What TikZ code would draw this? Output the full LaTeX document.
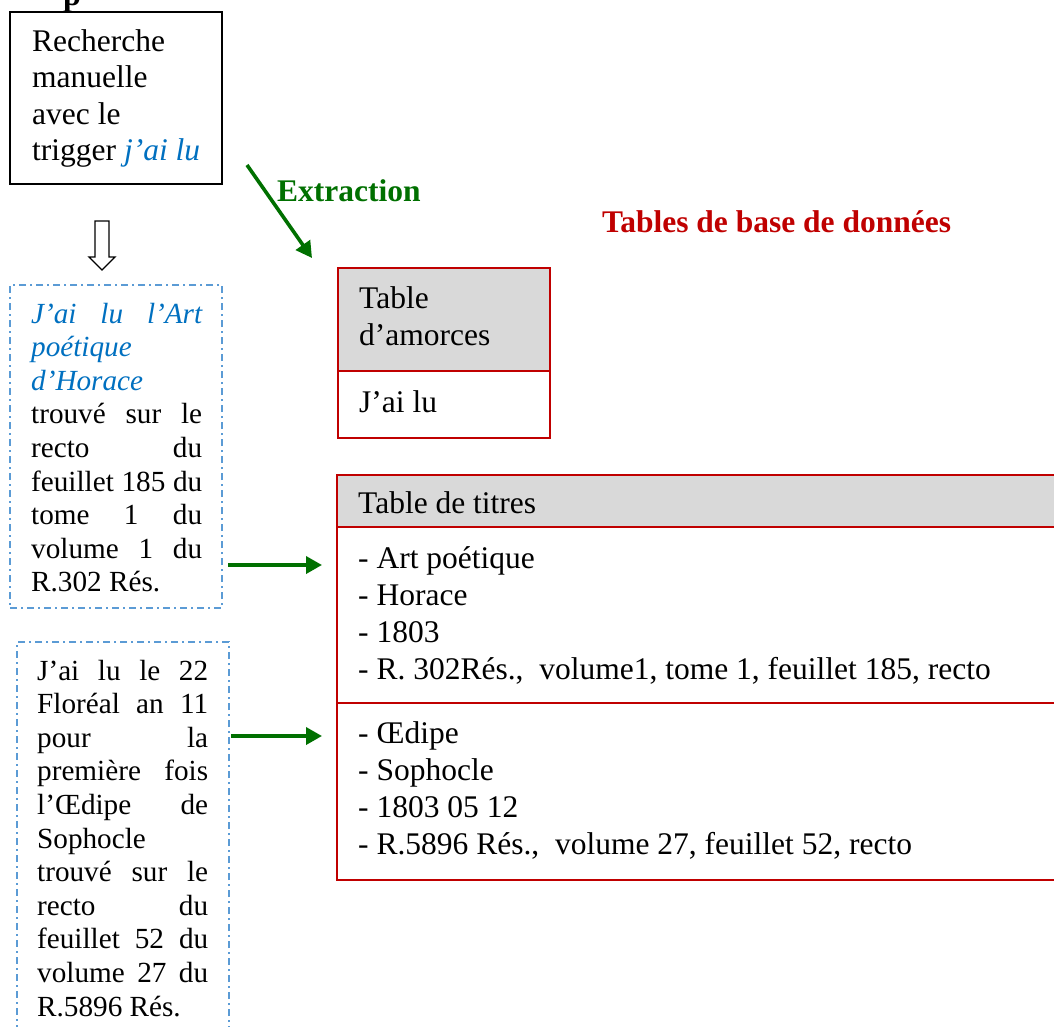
\documentclass[tikz,border=0pt]{standalone}
\usepackage{fontspec}
\setmainfont{Liberation Serif}
\usetikzlibrary{arrows.meta}
\definecolor{wblue}{RGB}{0,112,192}
\definecolor{dblue}{RGB}{91,155,213}
\definecolor{dred}{RGB}{192,0,0}
\definecolor{dgreen}{RGB}{0,112,0}
\definecolor{hgray}{RGB}{217,217,217}
\newcommand\jbox[1]{\makebox[171pt][s]{#1}}
\begin{document}
\begin{tikzpicture}[x=1pt,y=-1pt,
 big/.style={anchor=base west, inner sep=0, font=\fontsize{31.5}{36}\selectfont},
 small/.style={anchor=base west, inner sep=0, font=\fontsize{29.2}{34}\selectfont},
 head/.style={anchor=base west, inner sep=0, font=\fontsize{31.5}{36}\selectfont\bfseries},
 box/.style={anchor=north west, inner sep=0, outer sep=0, draw},
 blackbox/.style={box, draw=black, line width=1.7pt},
 bluebox/.style={box, draw=dblue, line width=1.5pt, dash pattern=on 7pt off 4pt on 2pt off 4pt},
 redbox/.style={box, draw=dred, line width=1.6pt},
 garrow/.style={draw=dgreen, line width=3.6pt, -{Triangle[length=16pt,width=17pt]}},
 hollow/.style={draw=black, line width=1.3pt, fill=white},
]
\useasboundingbox (0,0) rectangle (1054,1027);
\fill[white] (0,0) rectangle (1054,1027);
\begin{scope}
\clip (0,0) rectangle (1054,1027);

% cut-off heading fragment (as in the reference)
\node[anchor=base west, inner sep=0, font=\fontsize{32}{36}\selectfont\bfseries] (ptop) at (63,5.5) {p};

% box 1
\node[blackbox, minimum width=212pt, minimum height=172pt] (b1) at (10,12) {};
\node[big] (b1l1) at (32,52) {Recherche};
\node[big] (b1l2) at (32,88) {manuelle};
\node[big] (b1l3) at (32,124.5) {avec le};
\node[big] (b1l4) at (32,161) {trigger \textcolor{wblue}{\itshape j’ai lu}};

% hollow down arrow
\draw[hollow] (95,221) -- (109,221) -- (109,257) -- (115,257) -- (102,270) -- (89,257) -- (95,257) -- cycle;

% blue box 1
\node[bluebox, minimum width=212pt, minimum height=323pt] (blue1) at (10,285) {};
\node[small, text=wblue] (u1) at (31,323) {\jbox{\itshape J’ai lu l’Art}};
\node[small, text=wblue] (u2) at (31,356.6) {\itshape poétique};
\node[small, text=wblue] (u3) at (31,390.2) {\itshape d’Horace};
\node[small] (u4) at (31,423.8) {\jbox{trouvé sur le}};
\node[small] (u5) at (31,457.4) {\jbox{recto du}};
\node[small] (u6) at (31,491) {\jbox{feuillet 185 du}};
\node[small] (u7) at (31,524.6) {\jbox{tome 1 du}};
\node[small] (u8) at (31,558.2) {\jbox{volume 1 du}};
\node[small] (u9) at (31,591.8) {R.302 Rés.};

% blue box 2
\node[bluebox, minimum width=212pt, minimum height=400pt] (blue2) at (17,642) {};
\node[small] (v1) at (37,680) {\jbox{J’ai lu le 22}};
\node[small] (v2) at (37,713.6) {\jbox{Floréal an 11}};
\node[small] (v3) at (37,747.2) {\jbox{pour la}};
\node[small] (v4) at (37,780.8) {\jbox{première fois}};
\node[small] (v5) at (37,814.4) {\jbox{l’Œdipe de}};
\node[small] (v6) at (37,848) {Sophocle};
\node[small] (v7) at (37,881.6) {\jbox{trouvé sur le}};
\node[small] (v8) at (37,915.2) {\jbox{recto du}};
\node[small] (v9) at (37,948.8) {\jbox{feuillet 52 du}};
\node[small] (v10) at (37,982.4) {\jbox{volume 27 du}};
\node[small] (v11) at (37,1016) {R.5896 Rés.};

% headings
\node[head, text=dgreen] (extr) at (277,201) {Extraction};
\node[head, text=dred] (tbd) at (602,232) {Tables de base de données};

% table d'amorces
\node[redbox, fill=hgray, minimum width=212pt, minimum height=103pt] (amh) at (338,268) {};
\node[redbox, minimum width=212pt, minimum height=67pt] (amb) at (338,371) {};
\node[big] (am1) at (359,308) {Table};
\node[big] (am2) at (359,345) {d’amorces};
\node[big] (am3) at (359,412) {J’ai lu};

% table de titres
\node[redbox, fill=hgray, minimum width=740pt, minimum height=52pt] (tih) at (337,475) {};
\node[redbox, minimum width=740pt, minimum height=176pt] (tr1) at (337,527) {};
\node[redbox, minimum width=740pt, minimum height=177pt] (tr2) at (337,703) {};
\node[big] (ti0) at (358,513) {Table de titres};
\node[big] (ti1) at (358,568) {- Art poétique};
\node[big] (ti2) at (358,605) {- Horace};
\node[big] (ti3) at (358,642) {- 1803};
\node[big] (ti4) at (358,679) {- R. 302Rés.,\ \ volume1, tome 1, feuillet 185, recto};
\node[big] (ti5) at (358,743) {- Œdipe};
\node[big] (ti6) at (358,780) {- Sophocle};
\node[big] (ti7) at (358,817) {- 1803 05 12};
\node[big] (ti8) at (358,854) {- R.5896 Rés.,\ \ volume 27, feuillet 52, recto};

% connectors
\coordinate (e1) at (247,165);
\coordinate (e2) at (312,258);
\draw[garrow] (e1) -- (e2);
\coordinate (a1) at (0,565);
\coordinate (a2) at (0,736);
\draw[garrow] ([xshift=6pt]blue1.east |- a1) -- ([xshift=-15pt]tr1.west |- a1);
\draw[garrow] ([xshift=2pt]blue2.east |- a2) -- ([xshift=-15pt]tr2.west |- a2);
\end{scope}
\end{tikzpicture}
\end{document}
